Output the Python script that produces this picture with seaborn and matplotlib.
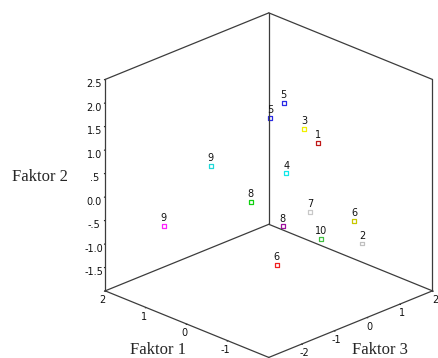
import numpy as np
import pandas as pd
import matplotlib
matplotlib.use("Agg")
import matplotlib.pyplot as plt
import seaborn as sns

# values (Faktor 1, Faktor 2, Faktor 3)
faktor1 = [0.0, 0.5, -0.3, -0.5, 1.2, 0.2, 0.6, -0.4, -1.0, 0.0, -0.6, -1.2, -0.2, 1.8]
faktor2 = [1.87, 1.31, 1.35, 1.07, 0.31, 0.21, -0.38, -0.40, -0.55, -0.75, -0.93, -0.95, -1.38, -0.98]
faktor3 = [-0.05, 0.16, 0.20, 0.38, -0.77, 0.28, -0.30, 0.26, 0.86, -0.07, 0.35, 0.85, -0.51, -1.46]
labels = ["5", "5", "3", "1", "9", "4", "8", "7", "6", "8", "10", "2", "6", "9"]
colors = ["#2a2ae6", "#2a2ae6", "#f0f000", "#c01818", "#20d8d8", "#10e8e8", "#10d010",
          "#c8c8c8", "#c8c800", "#a010a0", "#40c040", "#c0c0c0", "#f02020", "#ff20ff"]

f1_lim = (-2, 2)
f2_lim = (-2, 2.5)
f3_lim = (-3, 2)
f1_ticks = [-1, 0, 1, 2]
f1_ticklabels = ["-1", "0", "1", "2"]
f3_ticks = [-2, -1, 0, 1, 2]
f3_ticklabels = ["-2", "-1", "0", "1", "2"]
f2_ticks = [-1.5, -1.0, -0.5, 0.0, 0.5, 1.0, 1.5, 2.0, 2.5]
f2_ticklabels = ["-1.5", "-1.0", "-.5", "0.0", ".5", "1.0", "1.5", "2.0", "2.5"]

df = pd.DataFrame({"f1": faktor1, "f2": faktor2, "f3": faktor3,
                   "label": labels, "color": colors})

sns.set_style("white")
fig = plt.figure(figsize=(4.39, 3.58), dpi=100)
ax = fig.add_axes([0.1013, -0.0307, 1, 1], projection="3d")
ax.set_proj_type("ortho")
ax.view_init(elev=24, azim=-135)
ax.set_box_aspect((1, 1, 1), zoom=1.087)

# box: edges of the three back panes
x0, x1 = f3_lim
y0, y1 = f1_lim
z0, z1 = f2_lim
edges = [((x0, x1), (y0, y0), (z0, z0)), ((x0, x0), (y0, y1), (z0, z0)),
         ((x1, x1), (y0, y1), (z0, z0)), ((x0, x1), (y1, y1), (z0, z0)),
         ((x0, x1), (y1, y1), (z1, z1)), ((x1, x1), (y0, y1), (z1, z1)),
         ((x1, x1), (y1, y1), (z0, z1)), ((x0, x0), (y1, y1), (z0, z1)),
         ((x1, x1), (y0, y0), (z0, z1))]
for ex, ey, ez in edges:
    ax.plot(ex, ey, ez, color="#3c3c3c", lw=0.9)

ax.scatter(df["f3"], df["f1"], df["f2"], marker="s", s=8, facecolors="white",
           edgecolors=df["color"], linewidths=0.9, depthshade=False)
for _, r in df.iterrows():
    ax.text(r["f3"], r["f1"], r["f2"] + 0.06, r["label"], ha="center", va="bottom",
            fontsize=7, color="#111111")

ax.set_xlim(*f3_lim)
ax.set_ylim(*f1_lim)
ax.set_zlim(*f2_lim)
ax.set_xticks(f3_ticks, f3_ticklabels)
ax.set_yticks(f1_ticks, f1_ticklabels)
ax.set_zticks(f2_ticks, f2_ticklabels)
ax.grid(False)

for axis in (ax.xaxis, ax.yaxis, ax.zaxis):
    axis.pane.set_facecolor((1, 1, 1, 0))
    axis.pane.set_edgecolor((1, 1, 1, 0))
    axis.line.set_color((1, 1, 1, 0))
    axis._axinfo["tick"]["inward_factor"] = 0.06
    axis._axinfo["tick"]["outward_factor"] = 0.0
    axis.set_tick_params(labelsize=7, pad=-6, colors="#111111")
ax.zaxis.set_tick_params(pad=-3.5)

fig.text(0.027, 0.494, "Faktor 2", family="Liberation Serif", fontsize=12)
fig.text(0.296, 0.011, "Faktor 1", family="Liberation Serif", fontsize=12)
fig.text(0.802, 0.011, "Faktor 3", family="Liberation Serif", fontsize=12)

fig.savefig("out.png", dpi=100)
